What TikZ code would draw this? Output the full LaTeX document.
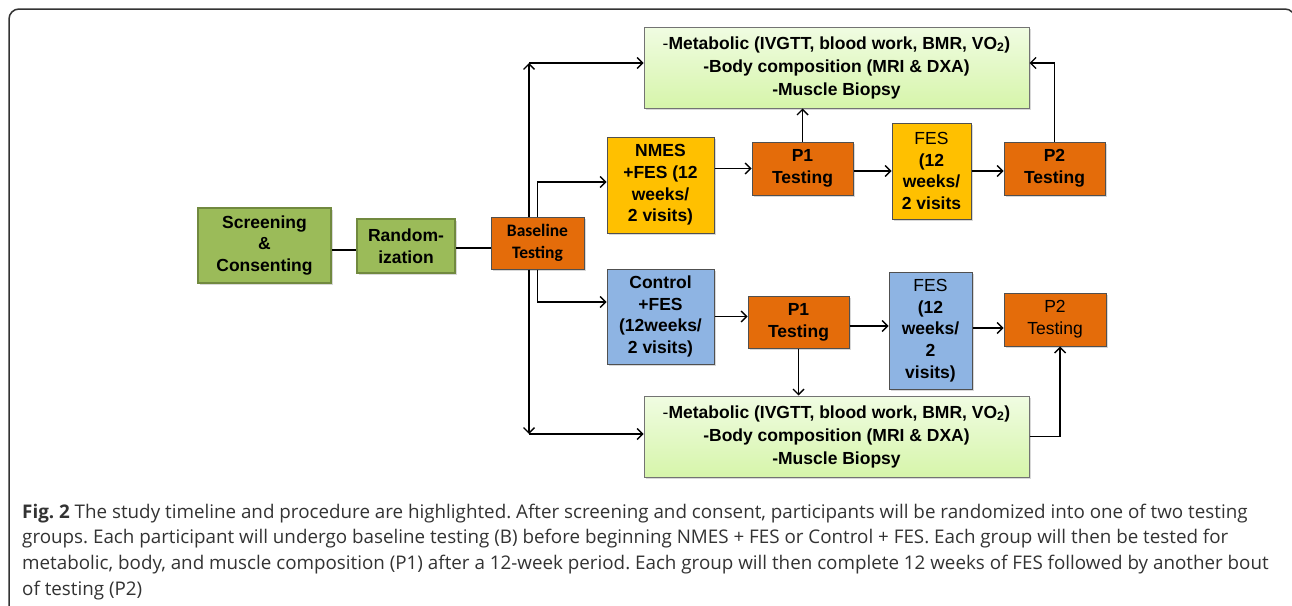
\documentclass[tikz,border=0pt]{standalone}
\usepackage{fontspec}
\setmainfont{Liberation Sans}
\newfontfamily\calib{Carlito}
\newfontfamily\capfont{Open Sans}
\usetikzlibrary{arrows.meta,shadows}
\definecolor{grn}{HTML}{9BBB59}
\definecolor{grnD}{HTML}{71893F}
\definecolor{org}{HTML}{E46C0A}
\definecolor{gold}{HTML}{FFC000}
\definecolor{blu}{HTML}{8EB4E3}
\definecolor{bdr}{HTML}{505050}
\definecolor{lgT}{HTML}{F0FCE2}
\definecolor{lgB}{HTML}{D6F5AA}
\definecolor{captxt}{HTML}{333333}
\frenchspacing
\begin{document}
\begin{tikzpicture}[x=1pt,y=-1pt,
  boxbase/.style={align=center, inner sep=0pt, font=\bfseries\fontsize{17.5}{21.7}\selectfont,
    drop shadow={shadow xshift=1.5pt, shadow yshift=-1.5pt, opacity=0.3, fill=gray}},
  gbox/.style={boxbase, fill=grn, draw=grnD, line width=2pt},
  obox/.style={boxbase, fill=org, draw=bdr, line width=1pt},
  ybox/.style={boxbase, fill=gold, draw=bdr, line width=1pt},
  bbox/.style={boxbase, fill=blu, draw=bdr, line width=1pt},
  mbox/.style={boxbase, top color=lgT, bottom color=lgB, draw=bdr!80, line width=1pt,
    font=\bfseries\fontsize{17.5}{23}\selectfont},
  conn/.style={line width=1.5pt, black},
  arr/.style={conn, -{Straight Barb[length=5.5pt,width=11pt,line width=1.4pt]}},
  captext/.style={anchor=base west, inner sep=0pt, text=captxt, font=\capfont\fontsize{18.8}{24}\selectfont}
]
\useasboundingbox (0,0) rectangle (1292,605);
\fill[white] (0,0) rectangle (1292,605);
\draw[line width=1.5pt, color=captxt, rounded corners=10pt] (9,9) rectangle (1295,660);

% nodes
\node[gbox, minimum width=133, minimum height=75] (scr) at (264.5,245.5) {Screening\\\&\\Consenting};
\node[gbox, minimum width=98, minimum height=54] (rnd) at (406,246) {Random-\\ization};
\node[obox, minimum width=93, minimum height=52, font=\calib\bfseries\fontsize{17.5}{21.7}\selectfont] (bas) at (537.5,243) {Baseline\\Testing};
\node[mbox, minimum width=385, minimum height=81] (topbox) at (836.5,67.5)
  {{\mdseries -}Metabolic (IVGTT, blood work, BMR, VO\textsubscript{2})\\-Body composition (MRI \& DXA)\\-Muscle Biopsy};
\node[ybox, minimum width=107, minimum height=96] (nmes) at (660.5,185) {NMES\\+FES (12\\weeks/\\2 visits)};
\node[obox, minimum width=101, minimum height=53] (p1a) at (802.5,168.5) {P1\\Testing};
\node[ybox, minimum width=79, minimum height=96] (fesa) at (931.5,171) {{\mdseries FES}\\(12\\weeks/\\2 visits};
\node[obox, minimum width=101, minimum height=53] (p2a) at (1054.5,168.5) {P2\\Testing};
\node[bbox, minimum width=107, minimum height=95] (ctrl) at (660.5,316.5) {Control\\+FES\\(12weeks/\\2 visits)};
\node[obox, minimum width=101, minimum height=52] (p1b) at (798.5,322) {P1\\Testing};
\node[bbox, minimum width=83, minimum height=117] (fesb) at (930.5,330.5) {{\mdseries FES}\\(12\\weeks/\\2\\visits)};
\node[obox, minimum width=102, minimum height=53, font=\mdseries\fontsize{17.5}{21.7}\selectfont] (p2b) at (1055,319.5) {P2\\Testing};
\node[mbox, minimum width=385, minimum height=81] (botbox) at (836.5,436.5)
  {{\mdseries -}Metabolic (IVGTT, blood work, BMR, VO\textsubscript{2})\\-Body composition (MRI \& DXA)\\-Muscle Biopsy};

\coordinate (tc) at (529,63);
\coordinate (bc) at (529,434);

% connectors
\draw[conn] ([yshift=-4.5pt]scr.east) -- ([yshift=-4.5pt]scr.east -| rnd.west);
\draw[conn] ([yshift=-2pt]rnd.east) -- ([yshift=-2pt]rnd.east -| bas.west);
\draw[arr] ([xshift=-8.5pt]bas.north) -- (tc);
\draw[arr] (tc) -- (tc -| topbox.west);
\draw[arr] (bas.north) |- ([yshift=3pt]nmes.west);
\draw[arr] ([xshift=-8.5pt]bas.south) -- (bc);
\draw[arr] (bc) -- (bc -| botbox.west);
\draw[arr] (bas.south) |- ([yshift=14.5pt]ctrl.west);
\draw[arr] (nmes.east |- p1a.west) -- (p1a.west);
\draw[arr] (p1a.north) -- (p1a.north |- topbox.south);
\draw[arr] (p1a.east |- fesa.west) -- (fesa.west);
\draw[arr] (fesa.east) -- (fesa.east -| p2a.west);
\draw[arr] (p2a.north) |- ([yshift=4.5pt]topbox.east);
\draw[arr] (ctrl.east) -- (ctrl.east -| p1b.west);
\draw[arr] (p1b.south) -- (p1b.south |- botbox.north);
\draw[arr] ([yshift=-4pt]p1b.east) -- ([yshift=-4pt]p1b.east -| fesb.west);
\draw[arr] ([yshift=2.5pt]fesb.east) -- ([yshift=2.5pt]fesb.east -| p2b.west);
\draw[arr] (botbox.east) -| ([xshift=5pt]p2b.south);

% caption
\node[captext] (c1) at (22,518) {\textbf{Fig. 2} The study timeline and procedure are highlighted. After screening and consent, participants will be randomized into one of two testing};
\node[captext] (c2) at (22,543) {groups. Each participant will undergo baseline testing (B) before beginning NMES + FES or Control + FES. Each group will then be tested for};
\node[captext] (c3) at (22,569) {metabolic, body, and muscle composition (P1) after a 12-week period. Each group will then complete 12 weeks of FES followed by another bout};
\node[captext] (c4) at (22,595) {of testing (P2)};
\end{tikzpicture}
\end{document}
